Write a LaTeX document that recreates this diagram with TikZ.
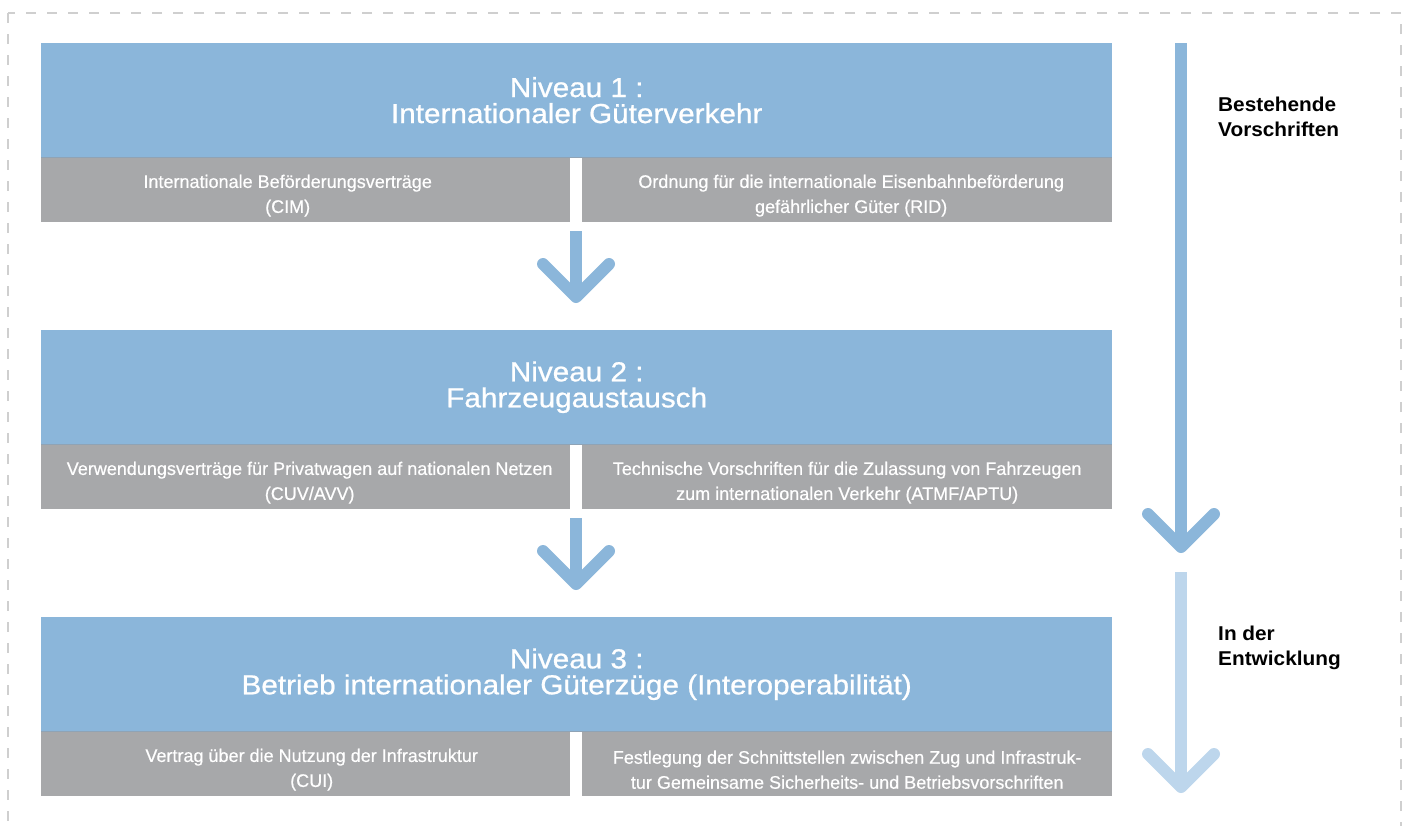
\documentclass[tikz,border=0pt]{standalone}
\usepackage{fontspec}
\setmainfont{Liberation Sans}
\newfontfamily\condfont[FakeStretch=0.99,FakeBold=0.5]{Liberation Sans}
\newfontfamily\headfont[FakeStretch=1.08,FakeBold=0.8]{Liberation Sans}
\newfontfamily\sidefont[FakeStretch=1.04]{Liberation Sans}
\usetikzlibrary{calc}
\definecolor{hblue}{HTML}{8BB6DA}
\definecolor{lblue}{HTML}{BDD6EC}
\definecolor{cgrey}{HTML}{A7A8AA}
\definecolor{bord}{HTML}{CFCFCF}
\definecolor{sepline}{HTML}{8FA3B5}
\begin{document}
\begin{tikzpicture}[x=1pt,y=-1pt,
  header/.style={fill=hblue, minimum width=1071pt, minimum height=114pt,
    anchor=north west, inner sep=0pt, text=white, align=center,
    font=\headfont\fontsize{27.5}{26}\selectfont},
  greybox/.style={fill=cgrey, minimum height=65pt, anchor=north west,
    inner sep=0pt},
  leftbox/.style={greybox, minimum width=529pt},
  rightbox/.style={greybox, minimum width=530pt},
  greytext/.style={inner sep=0pt, text=white, align=center,
    font=\condfont\fontsize{18.2}{25}\selectfont},
  sidelabel/.style={anchor=north west, inner sep=0pt, align=left,
    font=\sidefont\bfseries\fontsize{20}{25}\selectfont},
  shaft/.style={line width=12pt, line cap=butt},
  chev/.style={line width=12pt, line cap=round, line join=round},
  frame/.style={draw=bord, line width=2.5pt, dash pattern=on 10pt off 11pt}
]
\useasboundingbox (0,0) rectangle (1407,825);
\draw[frame] (8,13) rectangle (1401,860);

% Level 1
\node[header] (h1) at (41,43) {Niveau 1 :\\Internationaler Güterverkehr};
\node[leftbox] (l1) at (41,157) {};
\node[rightbox] (r1) at (582,157) {};
\node[greytext] (l1t) at ($(l1.center)+(-18,6)$) {Internationale Beförderungsverträge\\(CIM)};
\node[greytext] (r1t) at ($(r1.center)+(4,6)$) {Ordnung für die internationale Eisenbahnbeförderung\\gefährlicher Güter (RID)};
% Level 2
\node[header] (h2) at (41,330) {Niveau 2 :\\Fahrzeugaustausch};
\node[leftbox] (l2) at (41,444) {};
\node[rightbox] (r2) at (582,444) {};
\node[greytext] (l2t) at ($(l2.center)+(4,6)$) {Verwendungsverträge für Privatwagen auf nationalen Netzen\\(CUV/AVV)};
\node[greytext] (r2t) at ($(r2.center)+(0,6)$) {Technische Vorschriften für die Zulassung von Fahrzeugen\\zum internationalen Verkehr (ATMF/APTU)};
% Level 3
\node[header] (h3) at (41,617) {Niveau 3 :\\Betrieb internationaler Güterzüge (Interoperabilität)};
\node[leftbox] (l3) at (41,731) {};
\node[rightbox] (r3) at (582,731) {};
\node[greytext] (l3t) at ($(l3.center)+(6,6)$) {Vertrag über die Nutzung der Infrastruktur\\(CUI)};
\node[greytext] (r3t) at ($(r3.center)+(0,6)$) {Festlegung der Schnittstellen zwischen Zug und Infrastruk-\\tur Gemeinsame Sicherheits- und Betriebsvorschriften};

\foreach \k in {1,2,3}{
  \draw[sepline, line width=1pt] (h\k.south west) -- (h\k.south east);
}

% Arrows between levels
\coordinate (a1s) at (576,231);
\coordinate (a1t) at (576,297);
\coordinate (a2s) at (576,518);
\coordinate (a2t) at (576,584);
\draw[shaft, draw=hblue] (a1s) -- (a1t);
\draw[chev, draw=hblue] ($(a1t)+(-33,-33)$) -- (a1t) -- ($(a1t)+(33,-33)$);
\draw[shaft, draw=hblue] (a2s) -- (a2t);
\draw[chev, draw=hblue] ($(a2t)+(-33,-33)$) -- (a2t) -- ($(a2t)+(33,-33)$);

% Right-hand timeline
\coordinate (ds) at (1181,43);
\coordinate (dt) at (1181,547);
\coordinate (ls) at (1181,572);
\coordinate (lt) at (1181,787);
\draw[shaft, draw=hblue] (ds) -- (dt);
\draw[chev, draw=hblue] ($(dt)+(-33,-33)$) -- (dt) -- ($(dt)+(33,-33)$);
\draw[shaft, draw=lblue] (ls) -- (lt);
\draw[chev, draw=lblue] ($(lt)+(-33,-33)$) -- (lt) -- ($(lt)+(33,-33)$);

\node[sidelabel] (t1) at (1218,97) {Bestehende\\Vorschriften};
\node[sidelabel] (t2) at (1218,626) {In der\\Entwicklung};
\end{tikzpicture}
\end{document}
